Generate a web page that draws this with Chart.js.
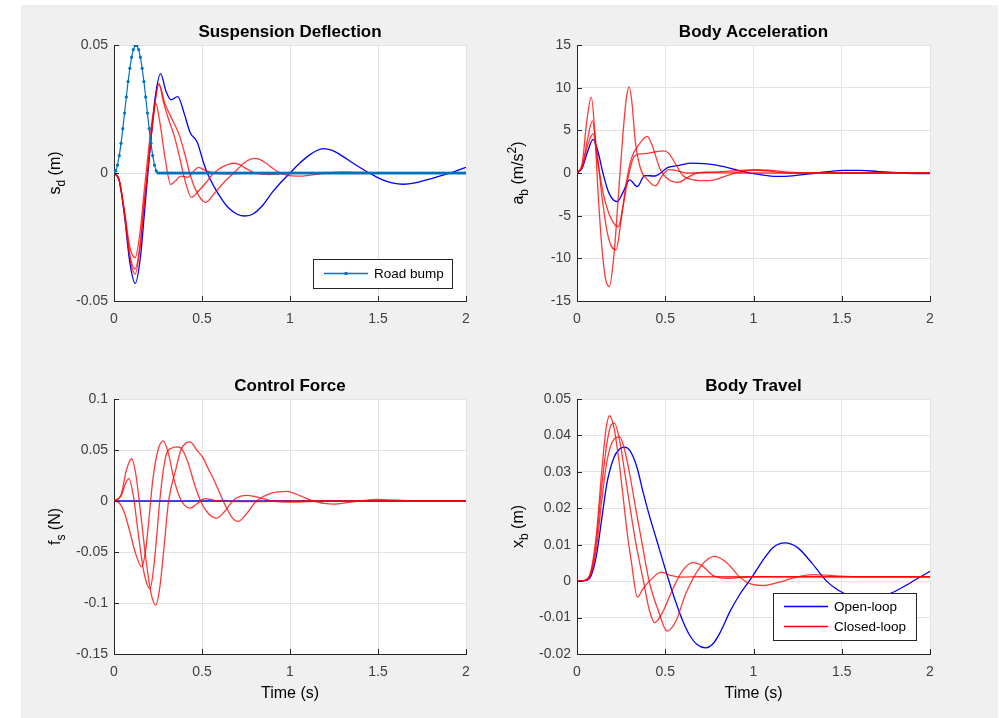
<!DOCTYPE html>
<html><head><meta charset="utf-8">
<script src="https://cdn.jsdelivr.net/npm/chart.js@4.4.1/dist/chart.umd.min.js"></script>
<style>
html,body{margin:0;padding:0;background:#fff;width:999px;height:718px;overflow:hidden;}
#bg{position:absolute;left:21px;top:5px;width:977px;height:713px;background:#f0f0f0;}
canvas{position:absolute;left:0;top:0;}
</style></head><body>
<div id="bg"></div>
<canvas id="c1" width="999" height="718"></canvas>
<canvas id="c2" width="999" height="718"></canvas>
<canvas id="c3" width="999" height="718"></canvas>
<canvas id="c4" width="999" height="718"></canvas>
<script>
// ---------- text ----------
const panelTitles = ['Suspension Deflection','Body Acceleration','Control Force','Body Travel'];
const seriesNames = ['Open-loop','Closed-loop'];
const bumpName = 'Road bump';
const xAxisLabel = 'Time (s)';

// ---------- ticks ----------
const xTickVals = [0,0.5,1,1.5,2];
const xTickLabels = ['0','0.5','1','1.5','2'];
const sdTickVals = [-0.05,0,0.05];
const sdTickLabels = ['-0.05','0','0.05'];
const abTickVals = [-15,-10,-5,0,5,10,15];
const abTickLabels = ['-15','-10','-5','0','5','10','15'];
const fsTickVals = [-0.15,-0.1,-0.05,0,0.05,0.1];
const fsTickLabels = ['-0.15','-0.1','-0.05','0','0.05','0.1'];
const xbTickVals = [-0.02,-0.01,0,0.01,0.02,0.03,0.04,0.05];
const xbTickLabels = ['-0.02','-0.01','0','0.01','0.02','0.03','0.04','0.05'];

// ---------- road bump ----------
const tRoad = [
0,0.01,0.02,0.03,0.04,0.05,0.06,0.07,0.08,0.09,
0.1,0.11,0.12,0.13,0.14,0.15,0.16,0.17,0.18,0.19,
0.2,0.21,0.22,0.23,0.24,0.25,0.26,0.27,0.28,0.29,
0.3,0.31,0.32,0.33,0.34,0.35,0.36,0.37,0.38,0.39,
0.4,0.41,0.42,0.43,0.44,0.45,0.46,0.47,0.48,0.49,
0.5,0.51,0.52,0.53,0.54,0.55,0.56,0.57,0.58,0.59,
0.6,0.61,0.62,0.63,0.64,0.65,0.66,0.67,0.68,0.69,
0.7,0.71,0.72,0.73,0.74,0.75,0.76,0.77,0.78,0.79,
0.8,0.81,0.82,0.83,0.84,0.85,0.86,0.87,0.88,0.89,
0.9,0.91,0.92,0.93,0.94,0.95,0.96,0.97,0.98,0.99,
1,1.01,1.02,1.03,1.04,1.05,1.06,1.07,1.08,1.09,
1.1,1.11,1.12,1.13,1.14,1.15,1.16,1.17,1.18,1.19,
1.2,1.21,1.22,1.23,1.24,1.25,1.26,1.27,1.28,1.29,
1.3,1.31,1.32,1.33,1.34,1.35,1.36,1.37,1.38,1.39,
1.4,1.41,1.42,1.43,1.44,1.45,1.46,1.47,1.48,1.49,
1.5,1.51,1.52,1.53,1.54,1.55,1.56,1.57,1.58,1.59,
1.6,1.61,1.62,1.63,1.64,1.65,1.66,1.67,1.68,1.69,
1.7,1.71,1.72,1.73,1.74,1.75,1.76,1.77,1.78,1.79,
1.8,1.81,1.82,1.83,1.84,1.85,1.86,1.87,1.88,1.89,
1.9,1.91,1.92,1.93,1.94,1.95,1.96,1.97,1.98,1.99,
2];
const roadBump = [
0,0.0008,0.0031,0.0068,0.0116,0.0173,0.0234,0.0297,0.0357,0.0409,
0.0452,0.0482,0.0498,0.0498,0.0482,0.0452,0.0409,0.0357,0.0297,0.0234,
0.0173,0.0116,0.0068,0.0031,0.0008,0,0,0,0,0,
0,0,0,0,0,0,0,0,0,0,
0,0,0,0,0,0,0,0,0,0,
0,0,0,0,0,0,0,0,0,0,
0,0,0,0,0,0,0,0,0,0,
0,0,0,0,0,0,0,0,0,0,
0,0,0,0,0,0,0,0,0,0,
0,0,0,0,0,0,0,0,0,0,
0,0,0,0,0,0,0,0,0,0,
0,0,0,0,0,0,0,0,0,0,
0,0,0,0,0,0,0,0,0,0,
0,0,0,0,0,0,0,0,0,0,
0,0,0,0,0,0,0,0,0,0,
0,0,0,0,0,0,0,0,0,0,
0,0,0,0,0,0,0,0,0,0,
0,0,0,0,0,0,0,0,0,0,
0,0,0,0,0,0,0,0,0,0,
0,0,0,0,0,0,0,0,0,0,
0];

// ---------- suspension deflection ----------
const sdOpenT = [0,0.03,0.06,0.09,0.121,0.15,0.17,0.19,0.21,0.235,0.265,0.295,0.324,0.362,0.40,0.432,0.473,0.508,0.53,0.57,0.61,0.65,0.70,0.744,0.79,0.84,0.9,0.95,1.0,1.05,1.1,1.15,1.189,1.24,1.3,1.37,1.45,1.52,1.58,1.644,1.71,1.78,1.85,1.91,1.96,2.0];
const sdOpen  = [0,-0.003,-0.017,-0.035,-0.0431,-0.033,-0.018,-0.002,0.013,0.03,0.0387,0.032,0.0286,0.0298,0.023,0.0159,0.012,0.0042,0,-0.0055,-0.01,-0.0136,-0.0161,-0.0168,-0.016,-0.013,-0.0075,-0.0035,0,0.0035,0.0065,0.0087,0.0095,0.0088,0.0065,0.0033,0,-0.0025,-0.0039,-0.0044,-0.0039,-0.0026,-0.0012,0,0.0012,0.0022];
const sdClosedAT = [0,0.03,0.06,0.09,0.12,0.15,0.17,0.19,0.215,0.237,0.26,0.29,0.322,0.35,0.38,0.42,0.45,0.48,0.52,0.57,0.65,0.8,1.0,1.5,2.0];
const sdClosedA  = [0,-0.003,-0.015,-0.029,-0.033,-0.022,-0.008,0.005,0.020,0.0273,0.020,0.006,-0.0045,-0.003,-0.0012,-0.0017,0.0005,0.0022,0.001,0,-0.0003,0,0,0,0];
const sdClosedBT = [0,0.03,0.06,0.09,0.12,0.15,0.17,0.19,0.22,0.255,0.28,0.31,0.34,0.37,0.40,0.44,0.48,0.52,0.56,0.59,0.62,0.65,0.68,0.71,0.74,0.77,0.80,0.88,0.95,1.05,1.3,1.6,2.0];
const sdClosedB  = [0,-0.003,-0.016,-0.032,-0.0375,-0.027,-0.013,0,0.02,0.035,0.028,0.021,0.015,0.007,-0.002,-0.0095,-0.007,-0.004,-0.0005,0.0012,0.0025,0.0034,0.0038,0.0034,0.0022,0.001,0,-0.0006,-0.0003,0,0.0002,0,0];
const sdClosedCT = [0,0.03,0.06,0.09,0.12,0.15,0.17,0.19,0.22,0.255,0.29,0.33,0.37,0.40,0.43,0.46,0.52,0.57,0.62,0.68,0.71,0.74,0.77,0.80,0.83,0.86,0.92,0.98,1.06,1.15,1.3,1.5,2.0];
const sdClosedC  = [0,-0.003,-0.016,-0.033,-0.0395,-0.028,-0.013,0,0.02,0.0345,0.027,0.021,0.015,0.008,0,-0.006,-0.0115,-0.008,-0.004,0,0.002,0.004,0.0052,0.0057,0.0052,0.004,0.001,-0.0008,-0.0012,-0.0005,0.0003,0.0001,0];

// ---------- body acceleration ----------
const abOpenT = [0,0.03,0.06,0.091,0.12,0.147,0.18,0.227,0.26,0.298,0.342,0.383,0.44,0.516,0.58,0.65,0.716,0.78,0.848,0.961,1.04,1.131,1.22,1.32,1.42,1.51,1.6,1.70,1.85,2.0];
const abOpen  = [0,0.6,2.5,3.95,2.4,0,-2.3,-3.36,-2.3,-0.8,-1.6,-0.3,-0.35,0.66,0.9,1.15,1.1,0.95,0.66,0.08,-0.2,-0.39,-0.33,-0.1,0.15,0.3,0.3,0.2,0,-0.08];
const abClosedAT = [0,0.03,0.055,0.081,0.10,0.12,0.14,0.16,0.183,0.21,0.235,0.26,0.28,0.295,0.31,0.33,0.36,0.40,0.445,0.48,0.52,0.56,0.62,0.75,1.0,2.0];
const abClosedA  = [0,1.2,6.0,8.9,5.0,-2.5,-8.5,-12.2,-13.3,-9.5,-2.5,4.5,8.8,10.1,8.5,3.8,0.5,-0.8,-1.5,-0.4,0.4,0.3,0,0.05,0,0];
const abClosedBT = [0,0.03,0.06,0.087,0.11,0.14,0.17,0.195,0.221,0.25,0.28,0.31,0.35,0.398,0.43,0.47,0.52,0.574,0.62,0.68,0.75,0.85,1.0,1.1,1.2,1.5,2.0];
const abClosedB  = [0,0.8,4.0,6.1,3.0,-2.5,-6.8,-8.6,-9.0,-5.5,-1.0,1.8,3.3,4.3,3.0,0.5,-0.8,-1.1,-0.6,0,0.1,0.2,0.35,0.2,0,0,0];
const abClosedCT = [0,0.03,0.06,0.091,0.12,0.15,0.19,0.234,0.26,0.29,0.32,0.35,0.40,0.45,0.49,0.52,0.56,0.60,0.66,0.72,0.78,0.85,0.92,1.0,1.1,1.2,1.35,2.0];
const abClosedC  = [0,0.7,3.2,4.6,1.0,-2.5,-5.2,-6.3,-4.0,-0.5,1.8,2.2,2.3,2.5,2.6,2.3,1.0,-0.3,-0.8,-0.9,-0.8,-0.3,0.1,0.35,0.3,0.1,0,0];

// ---------- control force ----------
const fsOpenT = [0,2];
const fsOpen  = [0,0];
const fsClosedAT = [0,0.03,0.06,0.09,0.12,0.157,0.18,0.20,0.22,0.25,0.28,0.31,0.34,0.37,0.40,0.432,0.47,0.517,0.56,0.6,0.8,1.0,2.0];
const fsClosedA  = [0,-0.002,-0.012,-0.03,-0.05,-0.0645,-0.048,-0.015,0.02,0.05,0.059,0.046,0.022,0.005,-0.004,-0.0069,-0.003,0.0023,0.001,0,-0.0005,0,0];
const fsClosedBT = [0,0.04,0.065,0.085,0.11,0.14,0.17,0.205,0.225,0.245,0.26,0.28,0.30,0.33,0.36,0.385,0.42,0.46,0.50,0.54,0.583,0.63,0.68,0.72,0.76,0.83,0.9,1.0,1.2,2.0];
const fsClosedB  = [0,0.005,0.017,0.022,0.005,-0.035,-0.07,-0.086,-0.066,-0.03,0,0.03,0.047,0.052,0.053,0.051,0.038,0.015,-0.003,-0.013,-0.0168,-0.01,0.001,0.0048,0.0055,0.003,0,-0.001,0,0];
const fsClosedCT = [0,0.04,0.07,0.10,0.125,0.15,0.18,0.21,0.237,0.26,0.29,0.31,0.35,0.38,0.41,0.432,0.47,0.507,0.54,0.564,0.60,0.64,0.67,0.706,0.75,0.81,0.9,0.98,1.06,1.13,1.246,1.35,1.49,1.6,1.75,2.0];
const fsClosedC  = [0,0.006,0.03,0.0414,0.025,-0.01,-0.055,-0.09,-0.102,-0.085,-0.035,0,0.03,0.05,0.057,0.058,0.05,0.042,0.03,0.022,0.008,-0.007,-0.016,-0.02,-0.013,0,0.008,0.0095,0.005,0,-0.003,-0.001,0.0016,0.0008,0,0];

// ---------- body travel ----------
const xbOpenT = [0,0.05,0.08,0.11,0.14,0.17,0.21,0.24,0.27,0.30,0.34,0.374,0.41,0.45,0.516,0.56,0.60,0.64,0.68,0.729,0.77,0.81,0.865,0.92,0.997,1.05,1.11,1.178,1.25,1.33,1.414,1.48,1.547,1.61,1.66,1.72,1.77,1.84,1.915,2.0];
const xbOpen  = [0,0.0002,0.0015,0.007,0.017,0.027,0.034,0.0362,0.0368,0.0358,0.0312,0.0245,0.018,0.0115,0.0008,-0.0058,-0.011,-0.015,-0.0174,-0.0183,-0.0172,-0.0142,-0.0085,-0.0038,0.0015,0.0055,0.0092,0.0105,0.0092,0.005,0,-0.0025,-0.004,-0.0047,-0.0048,-0.0044,-0.0035,-0.0018,0.0003,0.0027];
const xbClosedAT = [0,0.05,0.08,0.11,0.14,0.165,0.185,0.21,0.235,0.26,0.285,0.308,0.342,0.375,0.41,0.478,0.53,0.58,0.7,1.0,1.5,2.0];
const xbClosedA  = [0,0.0003,0.003,0.013,0.03,0.042,0.0454,0.042,0.034,0.0237,0.013,0.0053,-0.0044,-0.002,0,0.0025,0.0016,0.0011,0.0012,0.0012,0.0012,0.0012];
const xbClosedBT = [0,0.05,0.08,0.11,0.14,0.17,0.195,0.213,0.24,0.27,0.298,0.335,0.374,0.41,0.44,0.48,0.544,0.6,0.657,0.71,0.77,0.85,1.0,1.3,2.0];
const xbClosedB  = [0,0.0003,0.0025,0.011,0.026,0.038,0.043,0.0433,0.039,0.030,0.021,0.01,0.0006,-0.008,-0.0114,-0.009,-0.002,0.003,0.0051,0.0042,0.0016,0.0008,0.0012,0.0012,0.0012];
const xbClosedCT = [0,0.05,0.08,0.11,0.14,0.17,0.21,0.242,0.27,0.30,0.336,0.37,0.41,0.46,0.51,0.56,0.62,0.70,0.78,0.85,0.922,0.98,1.056,1.15,1.25,1.34,1.45,1.6,2.0];
const xbClosedC  = [0,0.0002,0.002,0.009,0.022,0.033,0.039,0.0396,0.036,0.029,0.019,0.01,-0.0003,-0.008,-0.0137,-0.011,-0.003,0.004,0.0068,0.005,0.0011,-0.0007,-0.0012,-0.0002,0.0012,0.0018,0.0015,0.0012,0.0012];

// ---------- styling ----------
const FONT = '"Liberation Sans", Arial, Helvetica, sans-serif';
const BLUE = '#0000ff', RED = 'rgba(255,0,0,0.78)', BUMP = '#0072BD';
const GRIDC = '#e3e3e3', AXC = '#262626', TICKC = '#404040';
const YW = 40, XH = 30;

function pts(t, v){ return t.map((x,i)=>({x:x, y:v[i]})); }
function lineDs(t, v, color, order){ return {data:pts(t,v), borderColor:color, borderWidth:1.3, pointRadius:0, order:order, cubicInterpolationMode:'monotone', fill:false}; }

function drawRich(c, parts, x, y, size, rotate){
  c.save(); c.translate(x,y); if(rotate) c.rotate(-Math.PI/2);
  const small = Math.round(size*0.72);
  c.textAlign='left'; c.textBaseline='alphabetic'; c.fillStyle='#000';
  const w = parts.map(p=>{ c.font=(p[1]?small:size)+'px '+FONT; return c.measureText(p[0]).width; });
  let cx = -w.reduce((a,b)=>a+b,0)/2;
  parts.forEach((p,i)=>{ c.font=(p[1]?small:size)+'px '+FONT; const dy = p[1]===1? size*0.32 : (p[1]===2? -size*0.42 : 0); c.fillText(p[0], cx, dy); cx += w[i]; });
  c.restore();
}

function makeDecor(cfg){
  return {
    id:'decor',
    beforeDraw(chart){ const a=chart.chartArea, c=chart.ctx; c.save(); c.fillStyle='#fff'; c.fillRect(a.left,a.top,a.right-a.left,a.bottom-a.top); c.restore(); },
    afterDraw(chart){
      const a=chart.chartArea, c=chart.ctx, xs=chart.scales.x, ys=chart.scales.y;
      c.save();
      c.strokeStyle=AXC; c.lineWidth=1; c.beginPath();
      xTickVals.forEach(v=>{ const px=Math.round(xs.getPixelForValue(v))+0.5; c.moveTo(px,a.bottom); c.lineTo(px,a.bottom-5); });
      cfg.yVals.forEach(v=>{ const py=Math.round(ys.getPixelForValue(v))+0.5; c.moveTo(a.left,py); c.lineTo(a.left+5,py); });
      c.stroke();
      c.fillStyle='#000'; c.font='bold 17px '+FONT; c.textAlign='center'; c.textBaseline='alphabetic';
      c.fillText(cfg.title,(a.left+a.right)/2,a.top-8);
      drawRich(c, cfg.yLabel, a.left-54, (a.top+a.bottom)/2, 16, true);
      if(cfg.xLabel) drawRich(c, [[cfg.xLabel,0]], (a.left+a.right)/2, a.bottom+44, 16, false);
      const L = cfg.legend;
      if(L){
        c.fillStyle='#fff'; c.fillRect(L.x,L.y,L.w,L.h);
        c.strokeStyle=AXC; c.lineWidth=1; c.strokeRect(L.x+0.5,L.y+0.5,L.w,L.h);
        L.items.forEach((it,i)=>{
          const yy = L.y + L.first + i*L.step;
          c.strokeStyle=it.color; c.lineWidth=1.3; c.beginPath(); c.moveTo(L.x+11,yy); c.lineTo(L.x+55,yy); c.stroke();
          if(it.marker){ c.fillStyle=it.color; c.beginPath(); c.arc(L.x+33,yy,1.8,0,2*Math.PI); c.fill(); }
          c.fillStyle='#000'; c.font='13.5px '+FONT; c.textAlign='left'; c.textBaseline='middle';
          c.fillText(it.text, L.x+61, yy+0.5);
        });
      }
      c.restore();
    }
  };
}

function makeChart(id, cfg){
  const a = cfg.area;
  return new Chart(document.getElementById(id), {
    type:'line',
    data:{datasets:cfg.datasets},
    options:{
      responsive:false, animation:false, devicePixelRatio:1, events:[],
      layout:{padding:{left:a.l-YW, top:a.t, right:999-a.r, bottom:718-a.b-XH}},
      plugins:{legend:{display:false}, tooltip:{enabled:false}, title:{display:false}},
      scales:{
        x:{type:'linear', min:0, max:2,
           afterFit:s=>{ s.height=XH; },
           afterBuildTicks:s=>{ s.ticks = xTickVals.map(v=>({value:v})); },
           ticks:{autoSkip:false, maxRotation:0, padding:10, color:TICKC, font:{family:FONT,size:14}, callback:(v,i)=>xTickLabels[i]},
           grid:{color:GRIDC, drawTicks:false, lineWidth:1}, border:{display:true, color:AXC, width:1}},
        y:{type:'linear', min:cfg.yMin, max:cfg.yMax,
           afterFit:s=>{ s.width=YW; },
           afterBuildTicks:s=>{ s.ticks = cfg.yVals.map(v=>({value:v})); },
           ticks:{autoSkip:false, padding:6, color:TICKC, font:{family:FONT,size:14}, callback:(v,i)=>cfg.yTickLabels[i]},
           grid:{color:GRIDC, drawTicks:false, lineWidth:1}, border:{display:true, color:AXC, width:1}}
      }
    },
    plugins:[makeDecor(cfg)]
  });
}

makeChart('c1', {
  area:{l:114,t:45,r:466,b:301}, yMin:-0.05, yMax:0.05, yVals:sdTickVals, yTickLabels:sdTickLabels,
  title:panelTitles[0], yLabel:[['s',0],['d',1],[' (m)',0]],
  legend:{x:313,y:259,w:139,h:29,first:14.5,step:20,items:[{color:BUMP,marker:true,text:bumpName}]},
  datasets:[
    {data:pts(tRoad,roadBump), borderColor:BUMP, borderWidth:1.2, pointRadius:1.6, pointBackgroundColor:BUMP, pointBorderWidth:0, tension:0, order:0},
    lineDs(sdClosedAT, sdClosedA, RED, 1),
    lineDs(sdClosedBT, sdClosedB, RED, 1),
    lineDs(sdClosedCT, sdClosedC, RED, 1),
    lineDs(sdOpenT, sdOpen, BLUE, 2)
  ]
});
makeChart('c2', {
  area:{l:577,t:45,r:930,b:301}, yMin:-15, yMax:15, yVals:abTickVals, yTickLabels:abTickLabels,
  title:panelTitles[1], yLabel:[['a',0],['b',1],[' (m/s',0],['2',2],[')',0]],
  datasets:[
    lineDs(abClosedAT, abClosedA, RED, 1),
    lineDs(abClosedBT, abClosedB, RED, 1),
    lineDs(abClosedCT, abClosedC, RED, 1),
    lineDs(abOpenT, abOpen, BLUE, 2)
  ]
});
makeChart('c3', {
  area:{l:114,t:399,r:466,b:654}, yMin:-0.15, yMax:0.1, yVals:fsTickVals, yTickLabels:fsTickLabels,
  title:panelTitles[2], yLabel:[['f',0],['s',1],[' (N)',0]], xLabel:xAxisLabel,
  datasets:[
    lineDs(fsClosedAT, fsClosedA, RED, 1),
    lineDs(fsClosedBT, fsClosedB, RED, 1),
    lineDs(fsClosedCT, fsClosedC, RED, 1),
    lineDs(fsOpenT, fsOpen, BLUE, 2)
  ]
});
makeChart('c4', {
  area:{l:577,t:399,r:930,b:654}, yMin:-0.02, yMax:0.05, yVals:xbTickVals, yTickLabels:xbTickLabels,
  title:panelTitles[3], yLabel:[['x',0],['b',1],[' (m)',0]], xLabel:xAxisLabel,
  legend:{x:773,y:593,w:143,h:47,first:13.5,step:20,items:[{color:BLUE,text:seriesNames[0]},{color:'#ff0000',text:seriesNames[1]}]},
  datasets:[
    lineDs(xbClosedAT, xbClosedA, RED, 1),
    lineDs(xbClosedBT, xbClosedB, RED, 1),
    lineDs(xbClosedCT, xbClosedC, RED, 1),
    lineDs(xbOpenT, xbOpen, BLUE, 2)
  ]
});
</script>
</body></html>
